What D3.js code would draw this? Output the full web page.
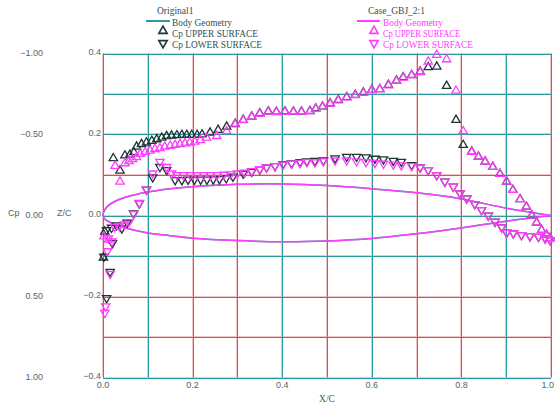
<!DOCTYPE html>
<html>
<head>
<meta charset="utf-8">
<script src="https://cdn.jsdelivr.net/npm/d3@7"></script>
<style>
    body { margin: 0; background: #fff; }
    .tick-label { font-family: "Liberation Sans", Arial, sans-serif; font-size: 9px; fill: #566666; }
    .legend-text { font-family: "Liberation Serif", "Times New Roman", serif; font-size: 9.5px; }
</style>
</head>
<body>
<div id="chart-area"></div>
<script>

// surface pressure, case "Original1"
var xcUpper1 = [0.001, 0.004, 0.023, 0.038, 0.049, 0.060, 0.069, 0.075, 0.086, 0.097, 0.109, 0.120, 0.131, 0.142, 0.153, 0.165, 0.176, 0.187, 0.198, 0.210, 0.221, 0.239, 0.257, 0.276, 0.295, 0.313, 0.332, 0.350, 0.369, 0.387, 0.406, 0.425, 0.443, 0.462, 0.475, 0.490, 0.507, 0.525, 0.544, 0.563, 0.581, 0.600, 0.618, 0.637, 0.655, 0.670, 0.689, 0.708, 0.726, 0.745, 0.767, 0.788, 0.804, 0.823, 0.838, 0.853, 0.870, 0.886, 0.901, 0.915, 0.931, 0.945, 0.957, 0.968, 0.979, 0.990, 0.998];
var cpUpper1 = [0.26, 0.10, -0.353, -0.277, -0.37, -0.375, -0.39, -0.425, -0.44, -0.45, -0.46, -0.47, -0.48, -0.49, -0.493, -0.495, -0.497, -0.497, -0.497, -0.497, -0.50, -0.511, -0.528, -0.548, -0.565, -0.59, -0.61, -0.63, -0.642, -0.64, -0.642, -0.641, -0.641, -0.645, -0.66, -0.672, -0.692, -0.713, -0.73, -0.744, -0.758, -0.775, -0.779, -0.806, -0.832, -0.853, -0.867, -0.888, -0.915, -0.919, -0.80, -0.59, -0.435, -0.394, -0.363, -0.332, -0.30, -0.256, -0.209, -0.157, -0.10, -0.054, 0.0, 0.044, 0.09, 0.12, 0.14];
var xcLower1 = [0.008, 0.016, 0.002, 0.021, 0.008, 0.019, 0.030, 0.042, 0.054, 0.068, 0.081, 0.097, 0.111, 0.127, 0.142, 0.161, 0.176, 0.190, 0.204, 0.218, 0.232, 0.246, 0.260, 0.275, 0.290, 0.313, 0.332, 0.350, 0.365, 0.384, 0.402, 0.421, 0.440, 0.455, 0.473, 0.492, 0.518, 0.544, 0.566, 0.587, 0.607, 0.626, 0.648, 0.666, 0.689, 0.708, 0.726, 0.745, 0.763, 0.782, 0.797, 0.812, 0.830, 0.845, 0.860, 0.875, 0.890, 0.901, 0.916, 0.934, 0.953, 0.972, 0.987, 0.998];
var cpLower1 = [0.51, 0.347, 0.254, 0.17, 0.09, 0.075, 0.06, 0.079, 0.044, -0.013, -0.075, -0.16, -0.236, -0.30, -0.281, -0.219, -0.219, -0.222, -0.222, -0.222, -0.222, -0.223, -0.225, -0.23, -0.24, -0.26, -0.27, -0.285, -0.297, -0.305, -0.318, -0.322, -0.33, -0.335, -0.337, -0.34, -0.353, -0.363, -0.363, -0.36, -0.351, -0.347, -0.338, -0.332, -0.312, -0.297, -0.281, -0.25, -0.209, -0.178, -0.137, -0.106, -0.071, -0.034, 0.0, 0.038, 0.073, 0.106, 0.11, 0.12, 0.127, 0.131, 0.141, 0.151];

// surface pressure, case "Case_GBJ_2:1"
var xcUpper2 = [0.002, 0.012, 0.027, 0.038, 0.049, 0.058, 0.066, 0.075, 0.083, 0.094, 0.105, 0.116, 0.127, 0.138, 0.150, 0.161, 0.172, 0.183, 0.194, 0.205, 0.217, 0.231, 0.254, 0.276, 0.295, 0.313, 0.332, 0.350, 0.369, 0.387, 0.406, 0.425, 0.443, 0.462, 0.475, 0.490, 0.507, 0.525, 0.544, 0.563, 0.581, 0.600, 0.618, 0.637, 0.655, 0.670, 0.689, 0.708, 0.726, 0.745, 0.767, 0.788, 0.804, 0.823, 0.838, 0.853, 0.870, 0.886, 0.901, 0.915, 0.931, 0.945, 0.957, 0.968, 0.979, 0.990, 0.998];
var cpUpper2 = [0.13, 0.15, -0.306, -0.209, -0.322, -0.335, -0.347, -0.36, -0.38, -0.39, -0.40, -0.41, -0.415, -0.425, -0.43, -0.435, -0.44, -0.445, -0.45, -0.455, -0.465, -0.48, -0.49, -0.52, -0.562, -0.588, -0.61, -0.628, -0.64, -0.638, -0.64, -0.64, -0.64, -0.643, -0.658, -0.67, -0.69, -0.71, -0.728, -0.742, -0.756, -0.773, -0.78, -0.803, -0.83, -0.85, -0.865, -0.885, -0.95, -0.991, -0.964, -0.77, -0.52, -0.392, -0.363, -0.332, -0.30, -0.256, -0.209, -0.157, -0.10, -0.054, 0.0, 0.044, 0.09, 0.12, 0.14];
var xcLower2 = [0.004, 0.006, 0.016, 0.010, 0.020, 0.012, 0.026, 0.036, 0.048, 0.058, 0.069, 0.081, 0.097, 0.111, 0.127, 0.142, 0.153, 0.165, 0.180, 0.195, 0.210, 0.225, 0.240, 0.255, 0.270, 0.285, 0.300, 0.316, 0.332, 0.350, 0.365, 0.384, 0.402, 0.421, 0.440, 0.455, 0.473, 0.492, 0.518, 0.544, 0.566, 0.587, 0.607, 0.626, 0.648, 0.666, 0.689, 0.708, 0.726, 0.745, 0.763, 0.782, 0.797, 0.812, 0.830, 0.845, 0.860, 0.875, 0.890, 0.901, 0.916, 0.934, 0.953, 0.972, 0.987, 0.998];
var cpLower2 = [0.60, 0.56, 0.36, 0.22, 0.16, 0.14, 0.07, 0.065, 0.055, 0.04, -0.01, -0.078, -0.16, -0.26, -0.332, -0.30, -0.26, -0.25, -0.25, -0.25, -0.25, -0.25, -0.25, -0.25, -0.252, -0.255, -0.26, -0.265, -0.275, -0.287, -0.297, -0.305, -0.315, -0.32, -0.325, -0.33, -0.328, -0.335, -0.34, -0.34, -0.335, -0.33, -0.325, -0.32, -0.315, -0.31, -0.305, -0.297, -0.281, -0.25, -0.209, -0.178, -0.137, -0.106, -0.071, -0.034, 0.0, 0.038, 0.073, 0.106, 0.11, 0.12, 0.127, 0.131, 0.141, 0.151];

// body geometry (same section for both cases)
var geomX = [0, 0.005, 0.0125, 0.025, 0.05, 0.1, 0.15, 0.2, 0.3, 0.4, 0.5, 0.6, 0.7, 0.8, 0.9, 1.0];
var geomUpper = [0, 0.016, 0.025, 0.034, 0.045, 0.058, 0.066, 0.071, 0.077, 0.078, 0.074, 0.066, 0.056, 0.041, 0.018, 0.0];
var geomLower = [0, -0.010, -0.015, -0.022, -0.031, -0.043, -0.050, -0.056, -0.062, -0.065, -0.063, -0.057, -0.045, -0.031, -0.014, 0.0];

var cpTicks = [-1.0, -0.5, 0.0, 0.5, 1.0];
var zcTicks = [0.4, 0.2, 0.0, -0.2, -0.4];
var xcTicks = [0.0, 0.2, 0.4, 0.6, 0.8, 1.0];

var cases = ["Original1", "Case_GBJ_2:1"];


function PressurePlot(){
    this.initVis();
    this.updateVis();
}

PressurePlot.prototype.initVis = function(){
    var vis = this;

    vis.width = 555;
    vis.height = 407;
    vis.plot = {left: 103, right: 551, top: 53.5, bottom: 377.5};

    vis.svg = d3.select("#chart-area").append("svg")
        .attr("width", vis.width)
        .attr("height", vis.height);

    vis.x = d3.scaleLinear()
        .domain([0, 1])
        .range([vis.plot.left, vis.plot.right]);

    vis.yCp = d3.scaleLinear()
        .domain([-1, 1])
        .range([vis.plot.top, vis.plot.bottom]);

    vis.yZ = d3.scaleLinear()
        .domain([0.4, -0.4])
        .range([vis.plot.top, vis.plot.bottom]);

    vis.teal = "#2a9a9a";
    vis.ghost = "#f6c4c4";
    vis.dark = "#1c3535";
    vis.magenta = "#ff3cff";
}

PressurePlot.prototype.updateVis = function(){
    var vis = this;
    var minus = function(s){ return s.replace("-", "\u2212"); };

    // grid, every 0.1 of X/C and Z/C; the pale red line is the offset ghost of the print
    var gx = d3.range(0, 11).map(function(i){ return i / 10; });
    var gy = d3.range(-4, 5).map(function(i){ return i / 10; });
    var grid = vis.svg.append("g");

    [[vis.ghost, -1], [vis.teal, 0]].forEach(function(layer){
        grid.selectAll(null)
            .data(gx)
            .enter().append("line")
            .attr("x1", function(d){ return Math.round(vis.x(d)) + 0.5 + layer[1]; })
            .attr("x2", function(d){ return Math.round(vis.x(d)) + 0.5 + layer[1]; })
            .attr("y1", vis.plot.top)
            .attr("y2", vis.plot.bottom)
            .attr("stroke", layer[0])
            .attr("stroke-width", 1);
        grid.selectAll(null)
            .data(gy)
            .enter().append("line")
            .attr("y1", function(d){ return Math.round(vis.yZ(d)) + 0.5 + layer[1]; })
            .attr("y2", function(d){ return Math.round(vis.yZ(d)) + 0.5 + layer[1]; })
            .attr("x1", vis.plot.left)
            .attr("x2", vis.plot.right)
            .attr("stroke", layer[0])
            .attr("stroke-width", 1);
    });

    // tick labels
    vis.svg.selectAll(".cp-label")
        .data(cpTicks)
        .enter().append("text")
        .attr("class", "tick-label")
        .attr("x", 43)
        .attr("y", function(d){ return vis.yCp(d) - 1; })
        .attr("dy", "0.35em")
        .attr("text-anchor", "end")
        .text(function(d){ return minus(d3.format(".2f")(d)); });

    vis.svg.selectAll(".zc-label")
        .data(zcTicks)
        .enter().append("text")
        .attr("class", "tick-label")
        .attr("x", 101)
        .attr("y", function(d){ return vis.yZ(d) - 1.5; })
        .attr("dy", "0.35em")
        .attr("text-anchor", "end")
        .text(function(d){ return minus(d3.format(".1f")(d)); });

    vis.svg.selectAll(".xc-label")
        .data(xcTicks)
        .enter().append("text")
        .attr("class", "tick-label")
        .attr("x", function(d){ return d === 1 ? vis.width - 1 : vis.x(d); })
        .attr("y", 388)
        .attr("text-anchor", function(d){ return d === 1 ? "end" : "middle"; })
        .text(function(d){ return d3.format(".1f")(d); });

    vis.svg.append("text").attr("class", "tick-label")
        .attr("x", 8).attr("y", 213).attr("dy", "0.35em").text("Cp");
    vis.svg.append("text").attr("class", "tick-label")
        .attr("x", 57).attr("y", 213).attr("dy", "0.35em").text("Z/C");
    vis.svg.append("text").attr("class", "legend-text")
        .attr("x", 327).attr("y", 402).attr("text-anchor", "middle")
        .attr("fill", "#3d5a5a").text("X/C");

    // body geometry
    var geomLoop = geomX.slice().reverse().map(function(x, i){
            return [x, geomUpper[geomX.length - 1 - i]];
        }).concat(geomX.slice(1).map(function(x, i){
            return [x, geomLower[i + 1]];
        }));

    var outline = d3.line()
        .x(function(d){ return vis.x(d[0]); })
        .y(function(d){ return vis.yZ(d[1]); })
        .curve(d3.curveCatmullRom);

    vis.svg.append("path")
        .datum(geomLoop)
        .attr("d", outline)
        .attr("fill", "none")
        .attr("stroke", vis.teal)
        .attr("stroke-width", 1.5);

    vis.svg.append("path")
        .datum(geomLoop)
        .attr("d", outline)
        .attr("fill", "none")
        .attr("stroke", vis.magenta)
        .attr("stroke-width", 1.5);

    // Cp markers
    var tri = d3.symbol().type(d3.symbolTriangle).size(30);

    var series = [
        {xs: xcUpper1, cps: cpUpper1, color: vis.dark, up: true},
        {xs: xcLower1, cps: cpLower1, color: vis.dark, up: false},
        {xs: xcUpper2, cps: cpUpper2, color: vis.magenta, up: true},
        {xs: xcLower2, cps: cpLower2, color: vis.magenta, up: false}
    ];

    series.forEach(function(s){
        var pts = s.xs.map(function(x, i){ return [x, s.cps[i]]; });
        vis.svg.append("g").selectAll("path")
            .data(pts)
            .enter().append("path")
            .attr("d", tri)
            .attr("transform", function(d){
                return "translate(" + vis.x(d[0]) + "," + vis.yCp(d[1]) + ")" + (s.up ? "" : " rotate(180)");
            })
            .attr("fill", "none")
            .attr("stroke", s.color)
            .attr("stroke-width", 1.3);
    });

    // legends
    var legends = [
        {title: cases[0], x: 157, lineX: [146, 170], textX: 172, color: vis.teal, mark: vis.dark, text: "#2f5050", widths: [60, 86, 90]},
        {title: cases[1], x: 368, lineX: [357, 380], textX: 383, color: vis.magenta, mark: vis.magenta, text: vis.magenta, widths: [60, 77, 90]}
    ];

    legends.forEach(function(l){
        var g = vis.svg.append("g");
        g.append("text").attr("class", "legend-text")
            .attr("x", l.x).attr("y", 14)
            .attr("fill", "#2f5050")
            .text(l.title);
        g.append("line")
            .attr("x1", l.lineX[0]).attr("x2", l.lineX[1])
            .attr("y1", 21).attr("y2", 21)
            .attr("stroke", l.color).attr("stroke-width", 2);
        ["Body Geometry", "Cp UPPER SURFACE", "Cp LOWER SURFACE"].forEach(function(t, i){
            g.append("text").attr("class", "legend-text")
                .attr("x", l.textX).attr("y", 26 + i * 11)
                .attr("fill", l.text)
                .attr("textLength", l.widths[i])
                .attr("lengthAdjust", "spacingAndGlyphs")
                .text(t);
        });
        [true, false].forEach(function(up, i){
            g.append("path")
                .attr("d", tri)
                .attr("transform", "translate(" + (l.textX - 9) + "," + (31 + i * 12) + ")" + (up ? "" : " rotate(180)"))
                .attr("fill", "none")
                .attr("stroke", l.mark)
                .attr("stroke-width", 1.6);
        });
    });
}

var plot = new PressurePlot();

</script>
</body>
</html>
